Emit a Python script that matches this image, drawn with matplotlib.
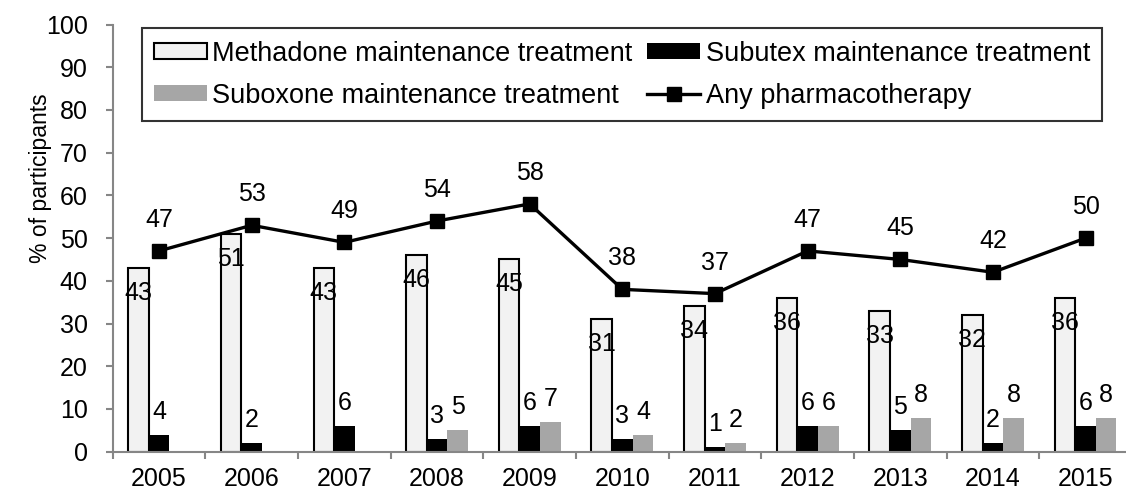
import numpy as np
import matplotlib
matplotlib.use("Agg")
import matplotlib.pyplot as plt
from matplotlib.ticker import FixedLocator, NullFormatter

# ---------- Data ----------
YEARS = ["2005", "2006", "2007", "2008", "2009", "2010",
         "2011", "2012", "2013", "2014", "2015"]
METHADONE = [43, 51, 43, 46, 45, 31, 34, 36, 33, 32, 36]
SUBUTEX = [4, 2, 6, 3, 6, 3, 1, 6, 5, 2, 6]
SUBOXONE = [np.nan, np.nan, np.nan, 5, 7, 4, 2, 6, 8, 8, 8]
ANY_PHARMA = [47, 53, 49, 54, 58, 38, 37, 47, 45, 42, 50]

LABELS = {
    "methadone": "Methadone maintenance treatment",
    "subutex": "Subutex maintenance treatment",
    "suboxone": "Suboxone maintenance treatment",
    "any": "Any pharmacotherapy",
}

# ---------- Style ----------
FONT = 18
LABEL_FONT = 16.5
LEGEND_FONT = 19.5
AXIS_GREY = "#868686"
METHADONE_FILL = "#F2F2F2"
SUBOXONE_FILL = "#A6A6A6"
BAR_W = 0.222

plt.rcParams["font.family"] = ["Liberation Sans", "DejaVu Sans"]
plt.rcParams["font.size"] = FONT

fig = plt.figure(figsize=(11.26, 4.93), dpi=100)
ax = fig.add_axes([0.1001, 0.0838, 0.9052, 0.8665])

x = np.arange(len(YEARS))

b_meth = ax.bar(x - BAR_W, METHADONE, BAR_W, color=METHADONE_FILL,
                edgecolor="black", linewidth=1.5, label=LABELS["methadone"], zorder=2)
b_subu = ax.bar(x, SUBUTEX, BAR_W, color="black", linewidth=0,
                label=LABELS["subutex"], zorder=2)
b_subo = ax.bar(x + BAR_W, np.nan_to_num(SUBOXONE), BAR_W, color=SUBOXONE_FILL,
                linewidth=0, label=LABELS["suboxone"], zorder=2)
line, = ax.plot(x, ANY_PHARMA, color="black", linewidth=2.4, marker="s",
                markersize=10, label=LABELS["any"], zorder=3)

# value labels
for xi, v in zip(x, METHADONE):
    ax.annotate(f"{v}", (xi - BAR_W, v), xytext=(0, -18), textcoords="offset points",
                ha="center", va="center", fontsize=FONT, zorder=4)
for xi, v in zip(x, SUBUTEX):
    ax.annotate(f"{v}", (xi, v), xytext=(0, 16.5), textcoords="offset points",
                ha="center", va="center", fontsize=FONT, zorder=4)
for xi, v in zip(x, SUBOXONE):
    if np.isnan(v):
        continue
    ax.annotate(f"{int(v)}", (xi + BAR_W, v), xytext=(0, 16.5), textcoords="offset points",
                ha="center", va="center", fontsize=FONT, zorder=4)
for xi, v in zip(x, ANY_PHARMA):
    ax.annotate(f"{v}", (xi, v), xytext=(0, 22.3), textcoords="offset points",
                ha="center", va="center", fontsize=FONT, zorder=4)

# axes
ax.set_xlim(-0.5, len(YEARS) - 0.5)
ax.set_ylim(0, 100)
ax.set_yticks(np.arange(0, 101, 10))
ax.set_xticks(x)
ax.set_xticklabels(YEARS)
ax.xaxis.set_minor_locator(FixedLocator(np.arange(-0.5, len(YEARS), 1.0)))
ax.xaxis.set_minor_formatter(NullFormatter())
ax.tick_params(axis="x", which="major", length=0, pad=11, labelsize=FONT)
ax.tick_params(axis="x", which="minor", length=5, width=1.5, color=AXIS_GREY, direction="out")
ax.tick_params(axis="y", length=5, width=1.5, color=AXIS_GREY, pad=13, labelsize=FONT)

for side in ("top", "right"):
    ax.spines[side].set_visible(False)
for side in ("left", "bottom"):
    ax.spines[side].set_color(AXIS_GREY)
    ax.spines[side].set_linewidth(1.5)

ax.set_ylabel("% of participants", fontsize=LABEL_FONT)
ax.yaxis.set_label_coords(-0.0704, 0.64)
ax.yaxis.label.set_verticalalignment("center")

leg = ax.legend([b_meth, b_subo, b_subu, line],
                [LABELS["methadone"], LABELS["suboxone"], LABELS["subutex"], LABELS["any"]],
                ncol=2, loc="upper left", bbox_to_anchor=(0.0285, 0.991),
                frameon=True, fancybox=False, fontsize=LEGEND_FONT,
                handlelength=1.95, handleheight=0.55, handletextpad=0.2,
                columnspacing=0.55, labelspacing=0.59, borderpad=0.45,
                borderaxespad=0)
leg.get_frame().set_edgecolor("black")
leg.get_frame().set_linewidth(1.5)

fig.savefig("out.png", dpi=100)
